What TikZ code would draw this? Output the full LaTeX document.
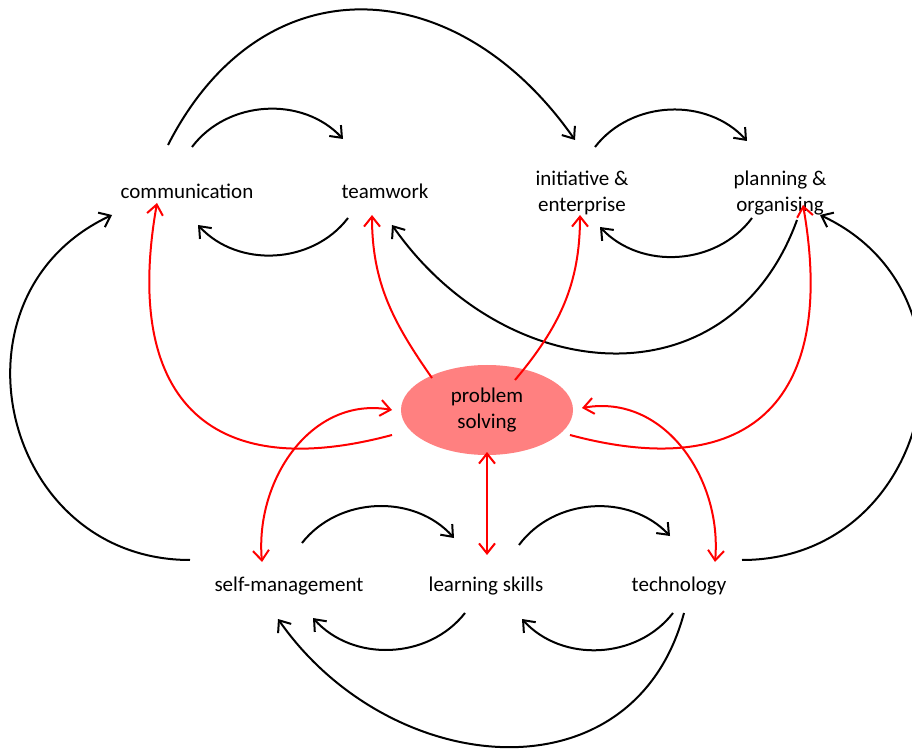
\documentclass[tikz,border=0pt]{standalone}
\usepackage{fontspec}
\setmainfont{Carlito}
\usetikzlibrary{arrows.meta,shapes.geometric}

\definecolor{psfill}{RGB}{255,128,128}

\tikzset{
  >={Straight Barb[length=5pt,width=8pt]},
  skill/.style={font=\fontsize{10.5}{13}\selectfont, align=center, inner sep=0pt},
  link/.style={->, line width=1pt},
  redlink/.style={link, red},
}

\begin{document}
\begin{tikzpicture}[x=0.5pt,y=0.5pt]
   \useasboundingbox (0,0) rectangle (912,-749);
   % skills
   \node[skill] (comm) at (187,-191) {communication};
   \node[skill] (team) at (385,-191) {teamwork};
   \node[skill] (init) at (582,-193) {initiative \&\\enterprise};
   \node[skill] (plan) at (780,-193) {planning \&\\organising};
   \node[skill, ellipse, fill=psfill, minimum width=86pt, minimum height=45pt] (ps) at (487,-410) {problem\\solving};
   \node[skill] (self) at (289,-586) {self-management};
   \node[skill] (learn) at (486,-586) {learning skills};
   \node[skill] (tech) at (679,-586) {technology};
    % black links
    \path[link]
    ([shift={(5,44)}]comm.center) edge[bend left=50] ([shift={(-42,52)}]team.center)
    ([shift={(-37,-27)}]team.center) edge[bend left=50] ([shift={(11,-34)}]comm.center)
    ([shift={(-19,46)}]comm.center) edge[out=63,in=125,looseness=1.3] ([shift={(-7,53)}]init.center)
    ([shift={(13,46)}]init.center) edge[bend left=50] ([shift={(-33,52)}]plan.center)
    ([shift={(-28,-25)}]plan.center) edge[bend left=50] ([shift={(18,-34)}]init.center)
    ([shift={(17,-27)}]plan.center) edge[out=-110,in=-55,looseness=1.25] ([shift={(7,-34)}]team.center)
    ([shift={(-99,26)}]self.center) edge[out=180,in=-155,looseness=1.37] ([shift={(-75,-24)}]comm.center)
    ([shift={(63,26)}]tech.center) edge[out=0,in=-25,looseness=1.37] ([shift={(40,-22)}]plan.center)
    ([shift={(13,43)}]self.center) edge[bend left=50] ([shift={(-32,48)}]learn.center)
    ([shift={(-21,-27)}]learn.center) edge[bend left=50] ([shift={(24,-32)}]self.center)
    ([shift={(33,41)}]learn.center) edge[bend left=50] ([shift={(-9,50)}]tech.center)
    ([shift={(-6,-27)}]tech.center) edge[bend left=50] ([shift={(36,-33)}]learn.center)
    ([shift={(5,-27)}]tech.center) edge[out=-105,in=-55,looseness=1.23] ([shift={(-11,-33)}]self.center);
    % red links
    \path[redlink]
    ([shift={(-95,-25)}]ps.center) edge[out=-165,in=-100,looseness=1.5] ([shift={(-30,-12)}]comm.center)
    ([shift={(-55,32)}]ps.center) edge[out=125,in=-90] ([shift={(-13,-24)}]team.center)
    ([shift={(28,30)}]ps.center) edge[out=50,in=-90] ([shift={(-2,-22)}]init.center)
    ([shift={(83,-25)}]ps.center) edge[out=-15,in=-80,looseness=1.5] ([shift={(23,-12)}]plan.center)
    ([shift={(-27,24)}]self.center) edge[<->,out=95,in=170,looseness=1.05] ([shift={(-95,0)}]ps.center)
    ([shift={(36,24)}]tech.center) edge[<->,out=85,in=10,looseness=1.05] ([shift={(95,2)}]ps.center)
    ([shift={(0,-42)}]ps.center) edge[<->] ([shift={(1,31)}]learn.center);
\end{tikzpicture}
\end{document}
